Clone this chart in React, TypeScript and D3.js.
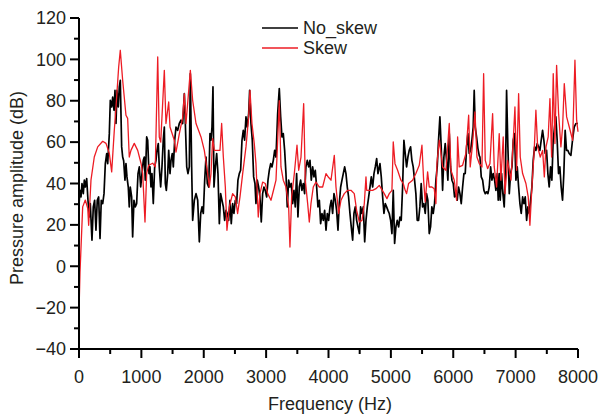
import React from "react";
import * as d3 from "d3";

const noSkewFreq = [0,16,32,48,69,85,101,123,144,165,181,208,229,251,272,293,315,337,357,380,401,422,444,460,486,502,524,540,561,577,593,609,630,646,662,684,700,716,737,753,769,790,806,822,844,860,881,902,924,946,967,989,1010,1031,1047,1063,1085,1101,1122,1138,1154,1170,1191,1213,1234,1250,1271,1287,1309,1330,1351,1368,1384,1400,1422,1438,1459,1475,1496,1512,1534,1555,1582,1608,1635,1662,1689,1705,1727,1747,1768,1785,1806,1822,1849,1876,1903,1929,1951,1972,1993,2015,2036,2057,2079,2100,2116,2132,2148,2164,2186,2207,2228,2250,2271,2292,2314,2335,2356,2377,2399,2420,2441,2463,2484,2506,2527,2548,2570,2591,2613,2634,2655,2677,2698,2720,2736,2757,2778,2800,2821,2837,2858,2880,2901,2922,2944,2965,2986,3009,3030,3051,3073,3094,3115,3137,3158,3185,3211,3233,3254,3275,3297,3318,3339,3361,3382,3403,3425,3446,3467,3489,3510,3532,3553,3574,3596,3617,3638,3660,3682,3703,3724,3746,3767,3788,3810,3831,3853,3874,3895,3917,3938,3960,3981,4002,4024,4045,4066,4088,4109,4130,4152,4173,4195,4216,4237,4259,4280,4301,4322,4344,4365,4387,4408,4429,4451,4472,4494,4515,4537,4558,4580,4601,4622,4644,4665,4686,4708,4729,4750,4772,4793,4825,4846,4868,4889,4910,4932,4953,4974,4996,5017,5038,5060,5081,5102,5124,5145,5166,5188,5209,5230,5252,5273,5294,5316,5337,5358,5380,5401,5422,5444,5465,5486,5508,5529,5551,5572,5593,5615,5636,5657,5679,5700,5722,5743,5764,5786,5807,5829,5850,5871,5893,5914,5936,5957,5979,6000,6021,6043,6064,6085,6107,6128,6150,6171,6192,6214,6235,6256,6278,6299,6320,6336,6352,6374,6395,6417,6428,6449,6471,6492,6513,6535,6556,6577,6599,6620,6641,6663,6684,6705,6721,6737,6753,6775,6796,6817,6839,6855,6876,6898,6919,6941,6962,6983,7005,7026,7048,7069,7090,7112,7133,7154,7176,7197,7218,7240,7261,7282,7304,7325,7346,7368,7389,7410,7432,7453,7474,7496,7517,7538,7560,7581,7602,7624,7645,7666,7688,7709,7730,7752,7773,7794,7816,7837,7858,7886,7912,7939,7966,8000];
const noSkewDb = [30,36.7,33.5,40,35.1,41.6,38.3,42.4,31.9,23.8,30.3,12.6,28.7,31.9,17.4,31.9,33.5,13.4,31.9,30.3,35.1,49.6,54.5,49.6,64.1,80.2,77,81.8,75.4,85,69,85,77,86.7,89.9,57.7,52.8,51,41.6,49.6,43.2,38.3,28.7,38.3,33.5,14.2,31.9,28.7,30.3,44.8,48,38.3,44.8,51.2,52.8,41.6,62.5,60.9,44.8,48,38.3,44.8,30.3,48,51.2,56,59.3,48,38.3,48,60.9,67.3,40,36.7,44.8,56,44.8,51.2,54.5,48,60.9,67.3,65.7,69,70.6,69,83.4,69,48,44.8,48,93.1,48,22.2,31.9,35.1,31.9,11.8,25.5,28.7,25.5,41.6,52.8,40,38.3,64.1,60.9,67.3,86.7,38.3,48,54.5,44.8,20.6,35.1,31.9,28.7,22.2,27,25.5,22.2,31.9,20.6,30.3,25.5,31.9,30.3,41.6,44.8,46.4,60.9,65.7,60.9,72.2,67.3,73.8,85,69,60.9,43.2,40,30.3,41.6,38.3,33.5,21.4,35.1,38.3,36.7,33.5,41.6,46.4,49.6,48,51.2,56,52.8,73.8,85.9,72.2,62.5,64.1,56,44.8,28.7,41.6,38.3,40,30.3,36.7,28.7,44.8,23.8,38.3,41.6,36.7,40,35.1,48,51.2,48,51.2,41.6,48,43.2,46.4,38.3,28.7,31.9,20.6,25.5,22.2,27,17.4,25.5,22.2,28.7,31.9,25.5,35.1,31.9,27,17.4,30.3,38.3,41.6,44.8,48,44.8,38.3,33.5,25.5,19,12.6,25.5,28.7,22.2,19,15.8,28.7,25.5,28.7,11.8,22.2,28.7,33.5,38.3,43.2,38.3,44.8,48,52,44.8,49.6,43.2,33.5,25.5,30.3,28.7,27,25.5,22.2,15.8,36.7,11,19,22.2,19,23.8,22.2,38.3,60.9,54.5,48,52.8,56,57.7,51.2,48,41.6,35.1,22.2,22.2,28.7,40,28.7,30.3,25.5,35.1,31.9,15.8,19,28.7,25.5,30.3,41.6,48,60.9,72.2,57.7,36.7,52.8,59.3,51.2,41.6,64.1,48,41.6,40,33.5,35.1,31.9,38.3,35.1,30.3,38.3,44.8,44.8,57.7,64.1,54.5,56,60.9,67.3,85,67.3,62.5,57,53.5,52.8,43.2,41.6,36.7,35.1,36,35.1,38.3,48,41.6,44.8,41.6,36.7,44.8,31.9,44.8,31.9,44.8,35.1,28.7,48,85,57.7,35.1,44.8,48,60.9,64.1,41.6,48,38.3,30.3,25.5,33.5,30.3,33.5,22.2,28.7,25.5,31.9,38.3,51.2,57.7,56,59.3,57.7,56,60.9,65.7,60.9,54.5,56,44.8,38.3,48,41.6,60.9,67.3,72.2,60.9,44.8,48,38.3,31.9,44.8,65.7,56,56,54.5,53.6,60.9,67.3,69,69];

const skewFreq = [0,16,59,101,140,155,192,245,300,380,433,486,524,566,593,636,662,700,753,780,806,833,886,941,994,1021,1058,1085,1117,1181,1223,1262,1287,1310,1368,1394,1438,1459,1528,1555,1608,1662,1689,1715,1742,1785,1822,1876,1956,2009,2063,2090,2116,2143,2170,2223,2260,2287,2314,2346,2372,2410,2463,2506,2543,2581,2624,2677,2720,2741,2773,2810,2837,2874,2901,2944,2986,3025,3078,3131,3158,3185,3211,3238,3275,3318,3361,3382,3409,3452,3495,3522,3559,3602,3628,3666,3692,3719,3756,3799,3853,3906,3960,4000,4040,4093,4120,4163,4200,4253,4308,4360,4413,4451,4494,4537,4574,4601,4612,4654,4708,4761,4814,4894,4937,4974,5017,5038,5066,5108,5161,5198,5230,5252,5284,5348,5401,5455,5498,5525,5551,5589,5615,5658,5695,5722,5738,5776,5830,5883,5936,5963,6016,6054,6070,6096,6150,6203,6247,6272,6310,6348,6380,6417,6460,6487,6513,6551,6588,6631,6657,6695,6737,6764,6801,6829,6871,6925,6962,6989,7016,7048,7074,7112,7165,7202,7229,7261,7298,7325,7353,7395,7433,7460,7487,7522,7550,7577,7603,7630,7657,7689,7726,7753,7780,7818,7860,7914,7951,7978,8000];
const skewDb = [-22,-3,28.7,32,28,19.8,41.6,52.8,57.7,60.4,59.4,54.6,45.6,65.7,77,96.3,104.4,89.9,73,71.5,52.8,56,59.4,56,49.8,44.9,21.4,45,48.8,49.8,48,101.2,62.5,60,94.7,69,79.4,67.3,60.9,55.2,64,72,83.4,69,78.7,94.7,80.2,69,62.5,56,44.8,38.3,44.8,61.7,56,56,56,69,52.8,38.3,17.4,28.7,35.1,33.5,25.5,33.5,44.8,57.7,72.2,85,69,59.3,49.6,23.8,35.1,40.7,40,35.1,31.9,38.3,41.6,60.9,80,48,41.6,38.3,28.7,9.3,33.5,44.8,58.5,46.4,52.8,78.6,41.6,30.3,21.4,30.3,38.3,40.7,38.3,38.3,44.8,43,41.6,53.6,38.3,25.5,31.9,35.1,36.7,36.7,35.1,27,21.4,22.2,30.3,43.2,36.7,36.7,36.7,37.5,39.1,35.1,32.7,35.1,36.7,60.1,49.6,46.4,41.6,40,36.7,35.1,40,41.6,44.8,48.8,58.5,41.6,31.1,45.6,38.3,38.3,37.5,30.3,49.6,60.9,48,46.4,69,46.4,41.6,31.9,62.5,48,48.8,54.5,73,48,59.3,74.6,52.8,49.6,48,93.1,51.2,47.2,49.6,73.8,48,38.3,64.1,41.6,62.5,35.1,51.2,41.6,60.9,77,46.4,83.4,52.8,44.8,40,33.5,19.8,38.3,56,75.4,57.7,52.8,56,43.2,57.7,62.5,81,52.8,93.1,59.3,97.1,73.8,57.7,67.3,88.3,72.2,67.3,60.9,99.6,70.6,65];

const xTicks = [0, 1000, 2000, 3000, 4000, 5000, 6000, 7000, 8000];
const yTicks = [-40, -20, 0, 20, 40, 60, 80, 100, 120];
const seriesNames = ["No_skew", "Skew"];

const FONT = "'Liberation Sans', Arial, Helvetica, sans-serif";
const TEXT = "#231f20";

export default function App() {
  const x = d3.scaleLinear().domain([0, 8000]).range([79, 578]);
  const y = d3.scaleLinear().domain([-40, 120]).range([349, 18]);

  const blackPts: [number, number][] = noSkewFreq.map((f, i) => [f, noSkewDb[i]]);
  const redPts: [number, number][] = skewFreq.map((f, i) => [f, skewDb[i]]);
  const line = d3.line<[number, number]>().x(d => x(d[0])).y(d => y(d[1]));

  const xMinor = d3.range(500, 8000, 1000);
  const yMinor = d3.range(-30, 120, 20);

  return (
    <svg width={600} height={417} style={{ position: "absolute", left: 0, top: 0, background: "#fff" }}
      fontFamily={FONT}>
      <rect x={0} y={0} width={600} height={417} fill="#fff" />
      <path d={line(blackPts) || ""} fill="none" stroke="#000" strokeWidth={1.7} strokeLinejoin="round" />
      <path d={line(redPts) || ""} fill="none" stroke="#ed1c24" strokeWidth={1.3} strokeLinejoin="round" />

      {/* axes */}
      <line x1={x(0)} x2={x(8000)} y1={y(-40)} y2={y(-40)} stroke="#000" strokeWidth={2} />
      <line x1={x(0)} x2={x(0)} y1={y(-40) + 1} y2={y(120)} stroke="#000" strokeWidth={2} />
      {xTicks.map(t => (
        <g key={"xt" + t}>
          <line x1={x(t)} x2={x(t)} y1={y(-40)} y2={y(-40) + 9} stroke="#000" strokeWidth={2} />
          <text x={x(t)} y={383} textAnchor="middle" fontSize={18} fill={TEXT}>{t}</text>
        </g>
      ))}
      {xMinor.map(t => (
        <line key={"xm" + t} x1={x(t)} x2={x(t)} y1={y(-40)} y2={y(-40) + 5} stroke="#000" strokeWidth={2} />
      ))}
      {yTicks.map(t => (
        <g key={"yt" + t}>
          <line x1={x(0) - 9} x2={x(0)} y1={y(t)} y2={y(t)} stroke="#000" strokeWidth={2} />
          <text x={66} y={y(t) + 6.3} textAnchor="end" fontSize={18} fill={TEXT}>{t < 0 ? "\u2212" + Math.abs(t) : t}</text>
        </g>
      ))}
      {yMinor.map(t => (
        <line key={"ym" + t} x1={x(0) - 5} x2={x(0)} y1={y(t)} y2={y(t)} stroke="#000" strokeWidth={2} />
      ))}

      <text x={330} y={410} textAnchor="middle" fontSize={18} fill={TEXT}>Frequency (Hz)</text>
      <text transform="translate(23,188) rotate(-90)" textAnchor="middle" fontSize={18} fill={TEXT}>Pressure amplitude (dB)</text>

      {/* legend */}
      <line x1={262} x2={298} y1={28} y2={28} stroke="#000" strokeWidth={1.7} />
      <text x={303} y={34} fontSize={18} fill={TEXT}>{seriesNames[0]}</text>
      <line x1={262} x2={298} y1={48} y2={48} stroke="#ed1c24" strokeWidth={1.3} />
      <text x={303} y={54} fontSize={18} fill={TEXT}>{seriesNames[1]}</text>
    </svg>
  );
}
